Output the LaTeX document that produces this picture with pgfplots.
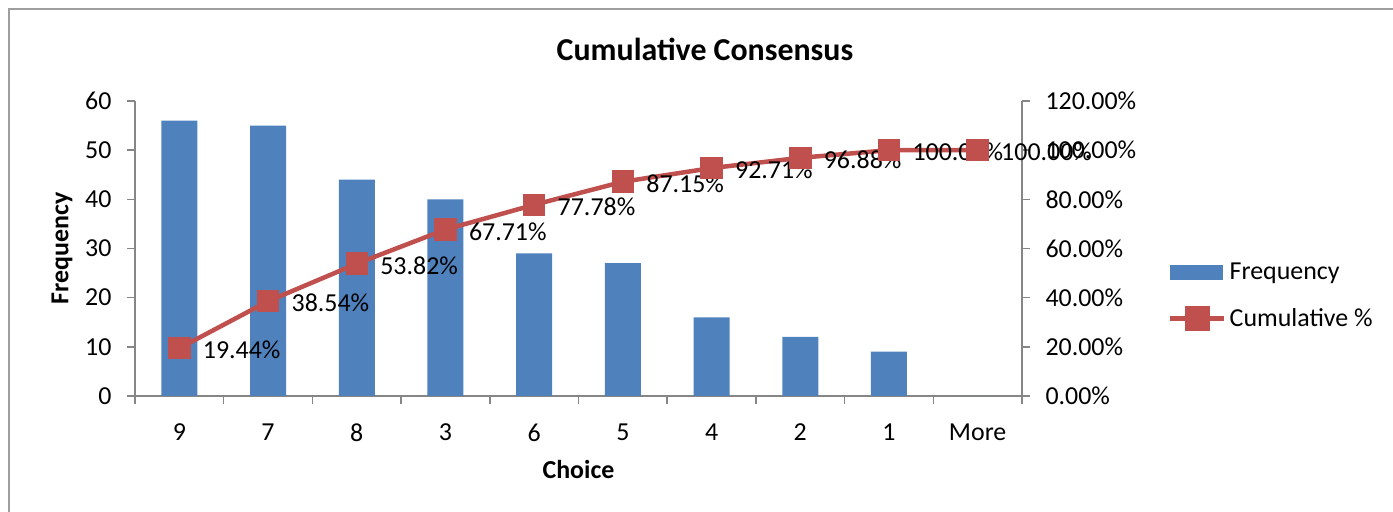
\documentclass[border=0pt]{standalone}
\usepackage{pgfplots}
\pgfplotsset{compat=1.18}
\usepackage{fontspec}
\setmainfont{Carlito}
\definecolor{barblue}{HTML}{4F81BD}
\definecolor{linered}{HTML}{C0504D}
\definecolor{axgray}{HTML}{868686}
\newcommand{\lbl}{\fontsize{26}{31}\selectfont}
\begin{document}
\begin{tikzpicture}[x=1bp,y=1bp]
\path[use as bounding box] (0,0) rectangle (1393,512);
\draw[color=axgray!80, line width=1.5bp] (9,0) -- (9,503) -- (1394,503);
\node[font=\fontsize{32}{38}\selectfont\bfseries] at (705,463) {Cumulative Consensus};
\pgfplotsset{
  myax/.style={
    at={(135bp,116bp)}, anchor=south west, scale only axis,
    width=887bp, height=295bp, xmin=-0.5, xmax=9.5,
    tick label style={font=\lbl},
    /pgf/number format/assume math mode=true,
    axis line style={axgray, line width=1.5bp},
    tick style={axgray, line width=1.5bp},
    tick align=outside,
    major tick length=8bp, minor tick length=8bp,
    clip=false,
  }
}
\begin{axis}[myax,
  axis x line*=bottom, axis y line*=left,
  ymin=0, ymax=60, ytick={0,10,...,60},
  xtick={0,...,9}, xticklabels={9,7,8,3,6,5,4,2,1,More},
  minor xtick={-0.5,0.5,...,9.5},
  major x tick style={draw=none},
  yticklabel style={xshift=-12bp},
  xticklabel style={yshift=-16bp},
  xlabel={Choice}, ylabel={Frequency},
  label style={font=\lbl\bfseries},
  xlabel style={at={(axis description cs:0.5,-0.2508)}, anchor=center},
  ylabel style={at={(axis description cs:-0.0823,0.5)}, anchor=center},
]
\addplot[ybar, bar width=36bp, fill=barblue, draw=none] coordinates {
(0,56) (1,55) (2,44) (3,40) (4,29) (5,27) (6,16) (7,12) (8,9) (9,0)};
\end{axis}
\begin{axis}[myax,
  axis x line=none, axis y line*=right,
  ymin=0, ymax=120, ytick={0,20,...,120},
  yticklabel={\pgfmathprintnumber[fixed,fixed zerofill,precision=2]{\tick}\%},
  yticklabel style={xshift=12bp},
  legend style={at={(1.1646,0.3407)}, anchor=west, draw=none, fill=none,
    inner sep=0pt, font=\lbl, row sep=22bp,
    nodes={inner sep=3bp}},
  legend cell align=left,
]
\addlegendimage{legend image code/.code={\fill[barblue] (0bp,-7bp) rectangle (52bp,7bp);}}
\addlegendentry{Frequency}
\addplot[linered, line width=4.5bp, mark=square*, mark size=9bp,
  mark options={fill=linered, draw=linered},
  nodes near coords, point meta=explicit symbolic,
  every node near coord/.append style={anchor=west, xshift=18bp, yshift=-2bp, font=\lbl, text=black},
  legend image code/.code={\draw[linered, line width=4.5bp] (0bp,0bp) -- (54bp,0bp);
    \fill[linered] (17bp,-10bp) rectangle (37bp,10bp);}
] table[meta=label] {
x y label
0 19.44 19.44\%
1 38.54 38.54\%
2 53.82 53.82\%
3 67.71 67.71\%
4 77.78 77.78\%
5 87.15 87.15\%
6 92.71 92.71\%
7 96.88 96.88\%
8 100.00 100.00\%
9 100.00 100.00\%
};
\addlegendentry{Cumulative \%}
\end{axis}
\end{tikzpicture}
\end{document}
